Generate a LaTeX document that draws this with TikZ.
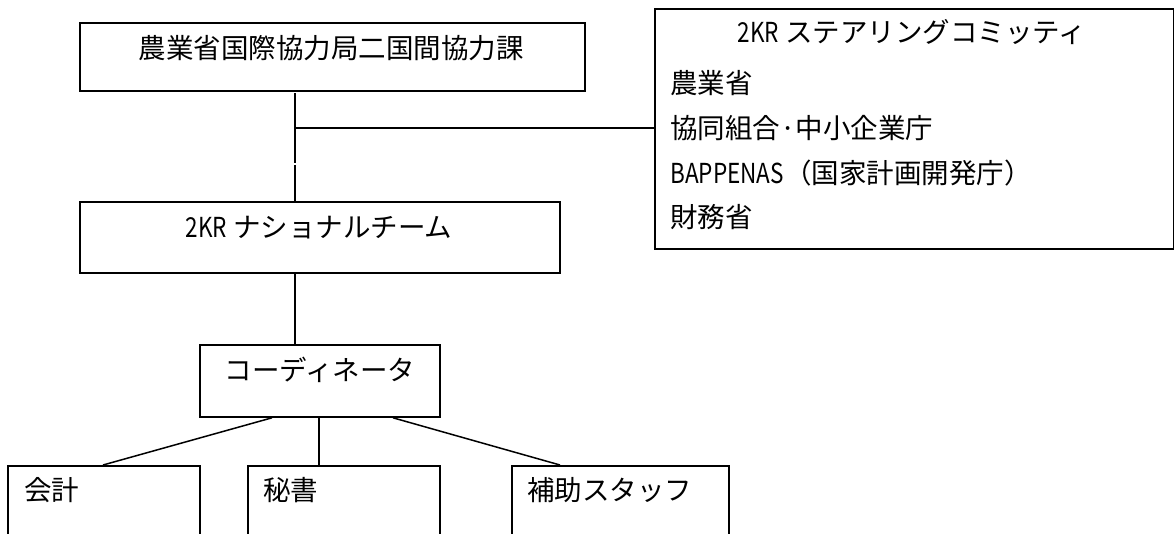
\documentclass[tikz,border=0pt]{standalone}
\usepackage{fontspec}
\usepackage{graphicx}
\newfontfamily\jp{Noto Sans CJK JP}
\newcommand\narrowtxt[1]{\scalebox{0.82}[1]{#1}}
\begin{document}
\begin{tikzpicture}[x=1pt,y=-1pt,
  box/.style={draw, line width=1.8pt, inner sep=0pt, anchor=north west},
  lbl/.style={inner sep=0pt, font=\jp\fontsize{27.5}{32}\selectfont},
  conn/.style={line width=1.5pt}]
\clip (0,0) rectangle (1174,533);
\fill[white] (0,0) rectangle (1174,533);
% boxes
\node[box, minimum width=505pt, minimum height=68pt] (top) at (79,22) {};
\node[box, minimum width=519pt, minimum height=240pt] (steer) at (654,8) {};
\node[box, minimum width=480pt, minimum height=71pt] (nat) at (79,201) {};
\node[box, minimum width=240pt, minimum height=72pt] (coord) at (199,344) {};
\node[box, minimum width=192pt, minimum height=95pt] (acc) at (7,465) {};
\node[box, minimum width=192pt, minimum height=95pt] (sec) at (247,465) {};
\node[box, minimum width=217pt, minimum height=95pt] (aux) at (511,465) {};
% labels
\node[lbl] (topt) at (331,48) {農業省国際協力局二国間協力課};
\node[lbl] (natt) at (319,228) {\narrowtxt{2KR} ナショナルチーム};
\node[lbl] (coordt) at (320,370) {コーディネータ};
\node[lbl, anchor=west] (acct) at (24,490) {会計};
\node[lbl, anchor=west] (sect) at (263,490) {秘書};
\node[lbl, anchor=west] (auxt) at (527,490) {補助スタッフ};
\node[lbl] (steert) at (912,32) {\narrowtxt{2KR} ステアリングコミッティ};
\node[lbl, anchor=west] (s1) at (670,83) {農業省};
\node[lbl, anchor=west] (s2) at (670,128) {協同組合·中小企業庁};
\node[lbl, anchor=west] (s3) at (670,173) {\narrowtxt{BAPPENAS}（国家計画開発庁）};
\node[lbl, anchor=west] (s4) at (670,217) {財務省};
% connectors
\coordinate (v1) at (295,93);
\coordinate (v2) at (295,163);
\coordinate (v3) at (295,165);
\coordinate (j) at (295,128);
\draw[conn] (v1) -- (v2);
\draw[conn] (v3) -- (v3 |- nat.north);
\draw[conn] (j) -- (j -| steer.west);
\draw[conn] (j |- nat.south) -- (j |- coord.north);
\draw[conn] ([xshift=73pt]coord.south west) -- ([xshift=96pt]acc.north west);
\draw[conn] ([xshift=120pt]coord.south west) -- ([xshift=72pt]sec.north west);
\draw[conn] ([xshift=194pt]coord.south west) -- ([xshift=49pt]aux.north west);
\end{tikzpicture}
\end{document}
